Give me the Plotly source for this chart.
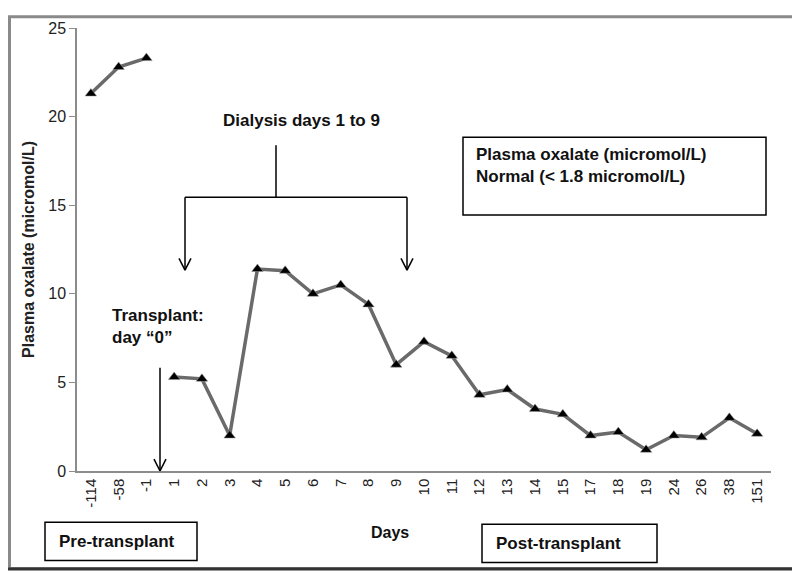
import plotly.graph_objects as go

# x categories (days) and plasma oxalate values (micromol/L)
pre_days = ["-114", "-58", "-1"]
pre_values = [21.3, 22.8, 23.3]

post_days = ["1", "2", "3", "4", "5", "6", "7", "8", "9", "10", "11", "12",
             "13", "14", "15", "17", "18", "19", "24", "26", "38", "151"]
post_values = [5.3, 5.2, 2.0, 11.4, 11.3, 10.0, 10.5, 9.4, 6.0, 7.3, 6.5, 4.3,
               4.6, 3.5, 3.2, 2.0, 2.2, 1.2, 2.0, 1.9, 3.0, 2.1]

y_ticks = [0, 5, 10, 15, 20, 25]

FONT = "Liberation Sans, Arial, sans-serif"
LINE = "#6a6a6a"

# the page puts the figure 8px in from the window corner
OFF = 8
W, H = 800 - OFF, 572 - OFF
# plot area in window pixels (used only for placing the decorations)
L, R, T, B = 77, 771, 21, 471


def px(x):
    return (x - L) / (R - L)


def py(y):
    return (B - y) / (B - T)


fig = go.Figure()
for days, vals in [(pre_days, pre_values), (post_days, post_values)]:
    fig.add_trace(go.Scatter(
        x=days, y=vals, mode="lines+markers",
        line=dict(color=LINE, width=3.5),
        marker=dict(symbol="triangle-up", size=10, color="black",
                    line=dict(color="#9a9a9a", width=0.5)),
        showlegend=False, cliponaxis=False))

fig.update_layout(
    width=W, height=H,
    margin=dict(l=L - OFF, r=W - (R - OFF), t=T - OFF, b=H - (B - OFF)),
    plot_bgcolor="white", paper_bgcolor="white",
    font=dict(family=FONT, color="#222", size=14),
)
fig.update_xaxes(
    type="category", categoryorder="array", categoryarray=pre_days + post_days,
    range=[-0.5, len(pre_days + post_days) - 0.5],
    tickangle=-90, ticks="", showgrid=False, zeroline=False,
    showline=True, linecolor="#8c8c8c", linewidth=1.5,
    tickfont=dict(size=15, color="#222"),
)
fig.update_yaxes(
    range=[0, 25], tickvals=y_ticks, showgrid=False, zeroline=False,
    showline=True, linecolor="#8c8c8c", linewidth=1.5,
    ticks="outside", ticklen=6, tickcolor="#8c8c8c",
    tickfont=dict(size=16, color="#222"),
    title=dict(text="<b>Plasma oxalate (micromol/L)</b>", font=dict(size=16), standoff=10),
)

shapes = []


def seg(x0, y0, x1, y1, w=1.5, color="black"):
    shapes.append(dict(type="line", xref="paper", yref="paper",
                       x0=px(x0), y0=py(y0), x1=px(x1), y1=py(y1),
                       line=dict(color=color, width=w)))


def down_arrow(x, y0, y1):
    seg(x, y0, x, y1)
    seg(x - 6, y1 - 12, x, y1)
    seg(x + 6, y1 - 12, x, y1)


def box(x0, y0, x1, y1, w=1.5, color="black"):
    shapes.append(dict(type="rect", xref="paper", yref="paper",
                       x0=px(x0), y0=py(y0), x1=px(x1), y1=py(y1),
                       line=dict(color=color, width=w), layer="above"))


# dialysis bracket
seg(276, 140, 276, 193)
seg(185, 193, 407, 193)
down_arrow(185, 193, 267)
down_arrow(407, 193, 267)
# transplant arrow
down_arrow(160, 366, 471)

box(463, 132, 766, 211)
box(45, 523, 197, 562)
box(482, 525, 657, 564)
# outer frame
box(OFF + 1.5, OFF + 1.5, 798.5, 570, w=3, color="#8a8a8a")
seg(OFF, 570.5, 800, 570.5, w=3, color="#333")
fig.update_layout(shapes=shapes)


def label(x, y, text, anchor="left", size=17):
    fig.add_annotation(xref="paper", yref="paper", x=px(x), y=py(y),
                       text=text, showarrow=False, xanchor=anchor, yanchor="middle",
                       align="left", font=dict(size=size, color="#111"))


# x-axis title sits left of the plot centre, as in the original
label(390, 533, "<b>Days</b>", anchor="center", size=16)
label(301, 115, "<b>Dialysis days 1 to 9</b>", anchor="center")
label(474, 161, "<b>Plasma oxalate (micromol/L)<br>Normal (< 1.8 micromol/L)</b>")
label(110, 324, "<b>Transplant:<br>day “0”</b>")
label(57, 543, "<b>Pre-transplant</b>")
label(494, 545, "<b>Post-transplant</b>")

fig.write_html("out.html")
